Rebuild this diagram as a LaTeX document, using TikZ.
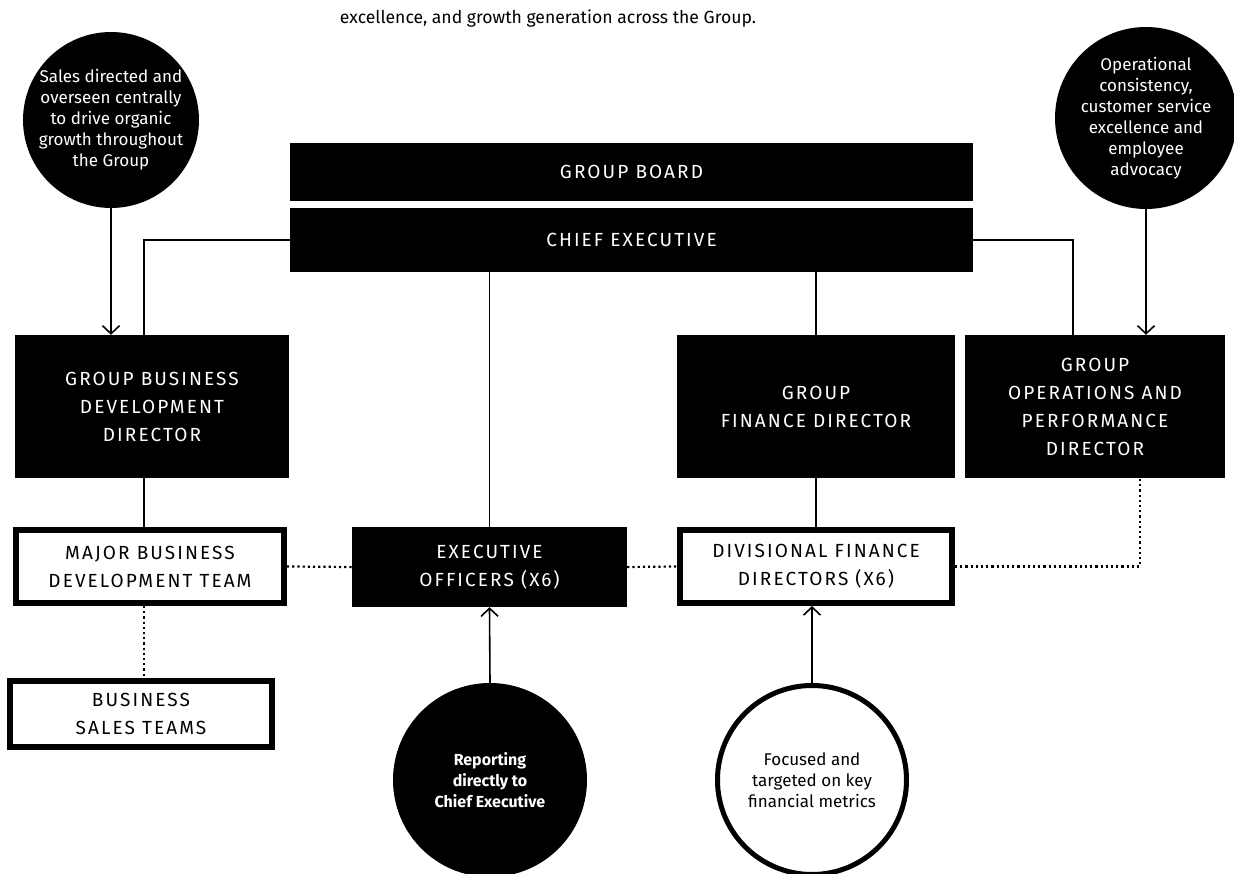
\documentclass[tikz,border=0pt]{standalone}
\usepackage{fontspec}
\setmainfont{Fira Sans}
\newfontfamily\capsfont[LetterSpace=11]{Fira Sans}
\usetikzlibrary{arrows.meta}

\begin{document}
\begin{tikzpicture}[
  x=1pt,y=-1pt,
  blackbox/.style={fill=black, text=white, align=center, inner sep=0pt, font=\capsfont\fontsize{19}{28}\selectfont},
  whitebox/.style={draw=black, line width=6pt, fill=white, align=center, inner sep=0pt, font=\capsfont\fontsize{19}{28}\selectfont},
  blackdot/.style={circle, fill=black, text=white, align=center, inner sep=0pt, font=\fontsize{17}{21}\selectfont},
  whitedot/.style={circle, draw=black, line width=5pt, fill=white, align=center, inner sep=0pt, font=\fontsize{17}{21}\selectfont},
  arr/.style={-{Straight Barb[length=8pt,width=17pt]}, line width=1.6pt},
  link/.style={line width=1.6pt},
  dots/.style={line width=2.2pt, dash pattern=on 2.2pt off 3pt}
]
\useasboundingbox (0,0) rectangle (1234,874);
\node[font=\fontsize{17.6}{22}\selectfont, anchor=base] (caption) at (548,24) {excellence, and growth generation across the Group.};
\node[blackdot, minimum size=170pt] (sales) at (111,120) {Sales directed and\\overseen centrally\\to drive organic\\growth throughout\\the Group};
\node[blackdot, minimum size=182pt] (ops) at (1146,118) {Operational\\consistency,\\customer service\\excellence and\\employee\\advocacy};
\node[blackbox, minimum width=683pt, minimum height=58pt] (board) at (631.5,172) {GROUP BOARD};
\node[blackbox, minimum width=683pt, minimum height=64pt] (chief) at (631.5,240) {CHIEF EXECUTIVE};
\node[blackbox, minimum width=274pt, minimum height=143pt] (gbdd) at (152,406.5) {GROUP BUSINESS\\DEVELOPMENT\\DIRECTOR};
\node[blackbox, minimum width=278pt, minimum height=143pt] (gfd) at (816,406.5) {GROUP\\FINANCE DIRECTOR};
\node[blackbox, minimum width=260pt, minimum height=143pt] (gopd) at (1095,406.5) {GROUP\\OPERATIONS AND\\PERFORMANCE\\DIRECTOR};
\node[whitebox, minimum width=268pt, minimum height=73pt] (mbdt) at (150,566.5) {MAJOR BUSINESS\\DEVELOPMENT TEAM};
\node[blackbox, minimum width=275pt, minimum height=80pt] (exec) at (489.5,567) {EXECUTIVE\\OFFICERS (X6)};
\node[whitebox, minimum width=272pt, minimum height=73pt] (dfd) at (816,566.5) {DIVISIONAL FINANCE\\DIRECTORS (X6)};
\node[whitebox, minimum width=262pt, minimum height=66pt] (bst) at (141,714) {BUSINESS\\SALES TEAMS};
\node[blackdot, minimum size=194pt, font=\bfseries\fontsize{16}{21}\selectfont] (report) at (490,780) {Reporting\\directly to\\Chief Executive};
\node[whitedot, minimum size=189pt] (focus) at (812,780) {Focused and\\targeted on key\\financial metrics};
\draw[arr] (sales.south) -- (sales.south |- gbdd.north); \draw[arr] (ops.south) -- (ops.south |- gopd.north);
\draw[link] (chief.west) -| ([xshift=-8pt]gbdd.north); \draw[link] (chief.east) -| ([xshift=-22pt]gopd.north);
\draw[link] (exec.north |- chief.south) -- (exec.north); \draw[link] (gfd.north |- chief.south) -- (gfd.north);
\draw[link] ([xshift=-8pt]gbdd.south) -- ([xshift=-8pt]gbdd.south |- mbdt.north); \draw[link] (gfd.south) -- (dfd.north);
\draw[dots] (mbdt.east) -- (exec.west); \draw[dots] (exec.east) -- (dfd.west); \draw[dots] (dfd.east) -| ([xshift=45pt]gopd.south);
\draw[dots] ([xshift=-6pt]mbdt.south) -- ([xshift=-6pt]mbdt.south |- bst.north);
\draw[arr] (report.north) -- (exec.south); \draw[arr] (focus.north) -- (focus.north |- dfd.south);
\end{tikzpicture}
\end{document}
